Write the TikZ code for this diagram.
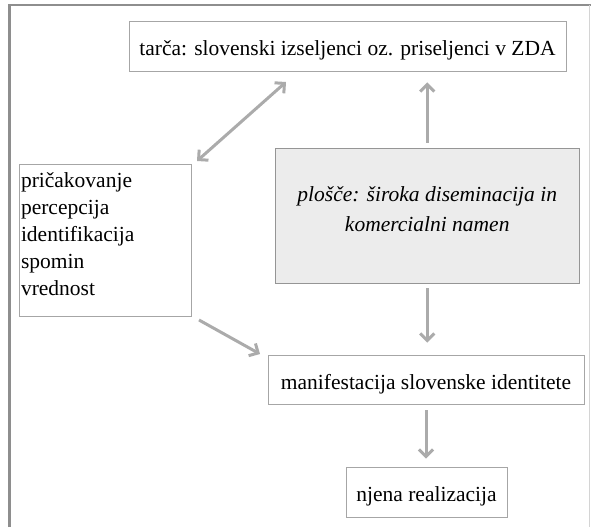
\documentclass[tikz,border=0pt]{standalone}
\usepackage{fontspec}
\setmainfont{Liberation Serif}
\usetikzlibrary{arrows.meta}
\definecolor{framegray}{HTML}{8E8E8E}
\definecolor{boxgray}{HTML}{A6A6A6}
\definecolor{arrgray}{HTML}{ABABAB}
\definecolor{fillgray}{HTML}{ECECEC}
\definecolor{rightgray}{HTML}{D4D4D4}
\begin{document}
\begin{tikzpicture}[x=1pt,y=-1pt,
  box/.style={draw=boxgray, line width=0.9pt, inner sep=2pt, font=\fontsize{21.5}{27.2}\selectfont},
  onebox/.style={box, text height=21pt, text depth=2pt},
  barb/.tip={Straight Barb[length=7pt,width=14pt]},
  arr/.style={draw=arrgray, line width=3pt, -barb},
]
\useasboundingbox (0,0) rectangle (591,527);
\draw[framegray, line width=2.5pt] (9.5,527) -- (9.5,5) -- (591,5);
\draw[rightgray, line width=1pt] (589.5,5) -- (589.5,527);

\node[onebox, minimum width=437pt, minimum height=50pt] (top) at (347.5,46) {tarča: slovenski izseljenci oz. priseljenci v ZDA};
\node[box, minimum width=172pt, minimum height=152pt, text width=168pt, align=left, text height=21pt, text depth=127pt] (left) at (105,240) {pričakovanje\\percepcija\\identifikacija\\spomin\\vrednost};
\node[box, fill=fillgray, draw=boxgray!90!black, minimum width=303.5pt, minimum height=135pt, align=center, text height=45pt, text depth=12.6pt, font=\fontsize{21.5}{30}\selectfont\itshape] (disc) at (427.25,215.5) {plošče: široka diseminacija in\\komercialni namen};
\node[onebox, minimum width=316pt, minimum height=49pt] (man) at (426,379.5) {manifestacija slovenske identitete};
\node[onebox, minimum width=161pt, minimum height=50pt] (real) at (426.5,492) {njena realizacija};

\coordinate (dA) at (197,161);
\coordinate (dB) at (286,82);
\draw[arr, barb-barb] (dA) -- (dB);
\draw[arr, shorten <=5pt, shorten >=11pt] (disc.north) -- (disc.north |- top.south);
\draw[arr, shorten <=5pt, shorten >=12pt] (disc.south) -- (disc.south |- man.north);
\coordinate (gA) at (199,320);
\coordinate (gB) at (260,354);
\draw[arr] (gA) -- (gB);
\draw[arr, shorten <=6pt, shorten >=8pt] (man.south) -- (man.south |- real.north);
\end{tikzpicture}
\end{document}
